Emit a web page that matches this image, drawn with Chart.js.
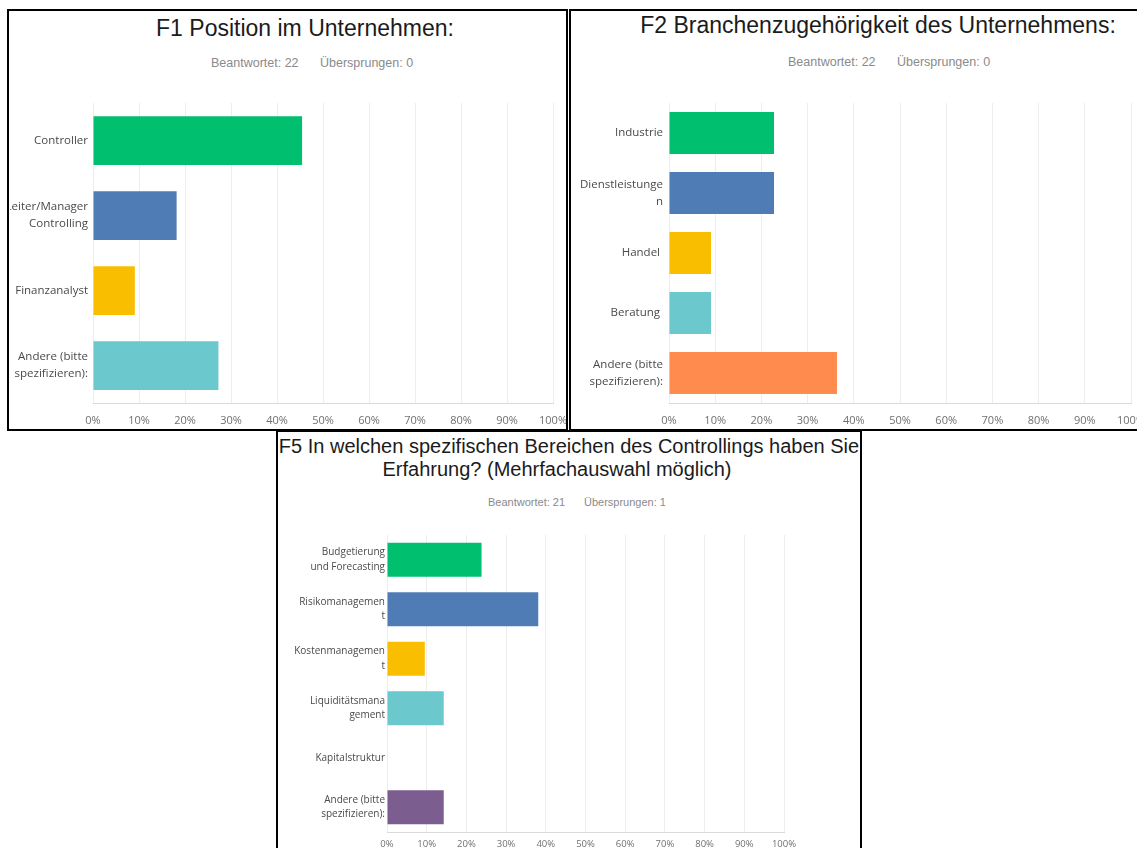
<!DOCTYPE html>
<html>
<head>
<meta charset="utf-8">
<script src="https://cdn.jsdelivr.net/npm/chart.js@4.4.1/dist/chart.umd.min.js"></script>
<style>
  html, body { margin: 0; padding: 0; background: #fff; width: 1137px; height: 848px; overflow: hidden; position: relative; }
  .box { position: absolute; border: 2px solid #000; box-sizing: border-box; z-index: 3; pointer-events: none; }
  .title { position: absolute; width: 700px; text-align: center; font-family: "Liberation Sans", Arial, sans-serif; color: #1b1b1b; white-space: nowrap; }
  .sub { position: absolute; font-family: "Liberation Sans", Arial, sans-serif; color: #8a8a8a; white-space: nowrap; line-height: 16px; }
  .chart { position: absolute; }
</style>
</head>
<body>
  <div class="box" style="left:7px; top:9px; width:561px; height:422px;"></div>
  <div class="box" style="left:569px; top:9px; width:640px; height:422px;"></div>
  <div class="box" style="left:276px; top:430px; width:586px; height:500px;"></div>

  <div class="title" style="left:-45px; top:14px; font-size:23px; line-height:28px;">F1 Position im Unternehmen:</div>
  <div class="sub" style="left:211px; top:55px; font-size:12.5px;">Beantwortet: 22</div>
  <div class="sub" style="left:320px; top:55px; font-size:12.5px;">Übersprungen: 0</div>

  <div class="title" style="left:528px; top:11px; font-size:23px; line-height:28px;">F2 Branchenzugehörigkeit des Unternehmens:</div>
  <div class="sub" style="left:788px; top:54px; font-size:12.5px;">Beantwortet: 22</div>
  <div class="sub" style="left:897px; top:54px; font-size:12.5px;">Übersprungen: 0</div>

  <div class="title" style="left:219px; top:434px; font-size:20px; line-height:24px;">F5 In welchen spezifischen Bereichen des Controllings haben Sie</div>
  <div class="title" style="left:207px; top:457px; font-size:20px; line-height:24px;">Erfahrung? (Mehrfachauswahl möglich)</div>
  <div class="sub" style="left:488px; top:494px; font-size:11px;">Beantwortet: 21</div>
  <div class="sub" style="left:584px; top:494px; font-size:11px;">Übersprungen: 1</div>

  <div class="chart" style="left:10px; top:73px; width:575px; height:357px;"><canvas id="f1"></canvas></div>
  <div class="chart" style="left:572px; top:73px; width:591px; height:357px;"><canvas id="f2"></canvas></div>
  <div class="chart" style="left:279px; top:505px; width:537px; height:351px;"><canvas id="f5"></canvas></div>

<script>
// F1 Position im Unternehmen (22 Antworten)
const f1Labels = ['Controller', ['Leiter/Manager', 'Controlling'], 'Finanzanalyst', ['Andere (bitte', 'spezifizieren):']];
const f1Values = [45.45, 18.18, 9.09, 27.27];
const f1Colors = ['#00bf6f', '#507cb6', '#f9be00', '#6bc8cd'];

// F2 Branchenzugehörigkeit (22 Antworten)
const f2Labels = ['Industrie', ['Dienstleistunge', 'n'], 'Handel ', 'Beratung ', ['Andere (bitte', 'spezifizieren):']];
const f2Values = [22.73, 22.73, 9.09, 9.09, 36.36];
const f2Colors = ['#00bf6f', '#507cb6', '#f9be00', '#6bc8cd', '#ff8b4f'];

// F5 Bereiche des Controllings (21 Antworten)
const f5Labels = [['Budgetierung', 'und Forecasting'], ['Risikomanagemen', 't'], ['Kostenmanagemen', 't'], ['Liquiditätsmana', 'gement'], 'Kapitalstruktur', ['Andere (bitte', 'spezifizieren):']];
const f5Values = [23.81, 38.10, 9.52, 14.29, 0, 14.29];
const f5Colors = ['#00bf6f', '#507cb6', '#f9be00', '#6bc8cd', '#ff8b4f', '#7c5d8f'];

const axisMax = 100;
const axisStep = 10;

const drawBarChart = (id, labels, values, colors, g) => {
    new Chart(document.getElementById(id), {
        type: 'bar',
        data: {
            labels: labels,
            datasets: [{
                data: values,
                backgroundColor: colors,
                barPercentage: g.bar,
                categoryPercentage: 1
            }]
        },
        options: {
            indexAxis: 'y',
            responsive: true,
            maintainAspectRatio: false,
            animation: false,
            layout: { padding: { top: 30, right: 32, left: 0, bottom: 0 } },
            plugins: { legend: { display: false }, tooltip: { enabled: false } },
            scales: {
                x: {
                    min: 0,
                    max: axisMax,
                    ticks: {
                        stepSize: axisStep,
                        callback: v => v + '%',
                        font: { family: 'Open Sans', size: g.tickSize },
                        color: '#707070',
                        padding: g.xPad,
                        maxRotation: 0
                    },
                    grid: { color: '#ededed', drawTicks: false },
                    border: { color: '#dadada' },
                    afterFit: s => { s.height = g.xHeight; }
                },
                y: {
                    grid: { display: false, drawTicks: false },
                    border: { display: false },
                    ticks: {
                        autoSkip: false,
                        font: { family: 'Open Sans', size: g.labelSize, lineHeight: g.lineHeight },
                        color: '#4a4a4a',
                        padding: g.yPad
                    },
                    afterFit: s => { s.width = g.yWidth; }
                }
            }
        }
    });
};

drawBarChart('f1', f1Labels, f1Values, f1Colors,
    { yWidth: 83, xHeight: 27, xPad: 11, yPad: 5, bar: 0.65, labelSize: 11.5, tickSize: 11, lineHeight: 1.5 });
drawBarChart('f2', f2Labels, f2Values, f2Colors,
    { yWidth: 97, xHeight: 27, xPad: 11, yPad: 6, bar: 0.7, labelSize: 11.5, tickSize: 11, lineHeight: 1.5 });
drawBarChart('f5', f5Labels, f5Values, f5Colors,
    { yWidth: 108, xHeight: 24, xPad: 7, yPad: 2, bar: 0.69, labelSize: 10, tickSize: 9.5, lineHeight: 1.45 });
</script>
</body>
</html>
